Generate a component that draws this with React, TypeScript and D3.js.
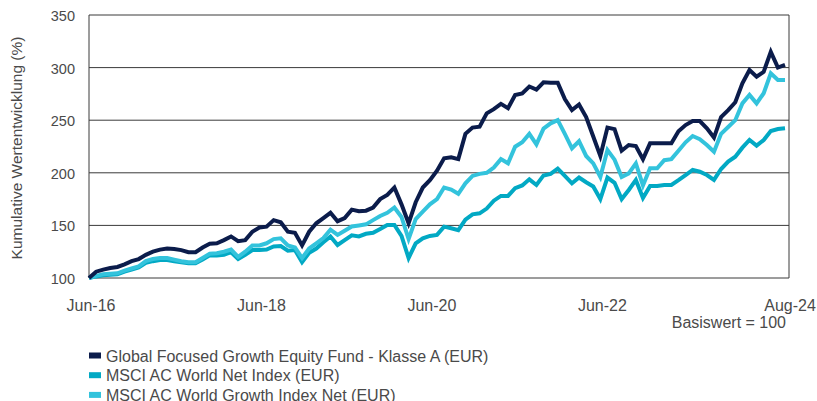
import React from "react";
import * as d3 from "d3";

const xLabels = ["Jun-16", "Jun-18", "Jun-20", "Jun-22", "Aug-24"];
const xLabelIdx = [0, 24, 48, 72, 98];
const yTicks = [100, 150, 200, 250, 300, 350];

const fund = [100, 106, 108, 109.5, 110.5, 113, 116, 118, 122, 125, 127, 128, 127.5, 126.5, 124.5, 124.5, 129, 132.5, 133, 136, 139.5, 135, 136, 144, 148, 148.8, 155, 153, 144, 143, 131, 144, 152, 157, 162, 154, 157, 165, 163.5, 164, 167, 175, 179, 186, 170, 152, 172, 186, 193, 202, 213.8, 214.7, 213, 237, 243, 243.8, 256.5, 260.5, 265.5, 261.5, 274, 275.5, 282, 279, 286, 285.7, 285.7, 270, 259.7, 265, 253, 234.5, 216, 243, 241.5, 221, 226.4, 225.5, 213, 228, 228, 228, 228, 239.5, 245.4, 249.2, 249.2, 242.3, 233.5, 253, 259.5, 267, 285, 297.7, 291.3, 296, 315, 300, 302.5];

const growth = [100, 102, 103.5, 104, 104.5, 107, 109, 111, 116, 118, 119, 119, 117.5, 116, 115, 115, 119, 123, 123.5, 125, 127, 120, 125, 131, 131, 133, 137, 137.7, 131, 129, 119, 128, 133, 138, 146, 141, 145, 149, 150, 151, 155, 159, 162, 167, 158, 137, 156, 163, 170, 175, 186, 184, 180, 190, 197, 199, 200, 205, 213, 209, 224.8, 229, 237, 227, 242, 247, 250, 237, 223.3, 230, 216, 209, 196, 221.7, 212.5, 196, 199.5, 209, 188, 204.3, 204.3, 212, 213, 221, 229, 235, 232, 226.4, 220, 237, 243.5, 250, 266, 274, 266, 275.6, 294.6, 288.2, 288.2];

const net = [100, 101.5, 102.5, 103, 103.5, 106, 108, 110, 114.5, 116, 117, 117, 116, 115, 114, 114, 117.5, 121.5, 121.5, 122, 124.5, 118, 122, 126.6, 126.6, 127, 130, 130.4, 126, 126.6, 115, 124, 128, 134, 139.5, 131.4, 136, 140.5, 139.5, 142, 143, 146.5, 150.4, 150.4, 140, 119, 133, 137.7, 140, 141, 148.8, 147.3, 145.5, 155.5, 160.5, 161.5, 166, 173.5, 178, 178, 185.3, 188, 193.8, 188.4, 197.5, 198.9, 204, 197, 190, 195.5, 191, 187, 175, 195.5, 190.5, 175, 183.7, 193.2, 176, 187.5, 187.5, 188.4, 188.4, 193, 197.9, 202.7, 201, 197.9, 193.2, 203.6, 210.6, 215.3, 223.9, 231.2, 225.8, 231.2, 239.7, 241.6, 242.3];

const seriesNames = [
  "Global Focused Growth Equity Fund - Klasse A (EUR)",
  "MSCI AC World Net Index (EUR)",
  "MSCI AC World Growth Index Net (EUR)",
];
const colors = ["#0b1c4b", "#02a9c4", "#33c3dc"];

const W = 817;
const H = 401;
const left = 89;
const right = 789;
const top = 15;
const bottom = 278;
const font = "'Liberation Sans', Arial, sans-serif";
const textColor = "#4a4a4a";

export default function App() {
  const x = d3.scaleLinear().domain([0, 98]).range([left, 785]);
  const y = d3.scaleLinear().domain([100, 350]).range([bottom, top]);
  const line = d3
    .line<number>()
    .x((_, i) => x(i))
    .y((d) => y(d));

  const drawOrder = [
    { data: net, color: colors[1] },
    { data: growth, color: colors[2] },
    { data: fund, color: colors[0] },
  ];

  return (
    <div style={{ position: "fixed", left: 0, top: 0, background: "#fff" }}>
      <svg width={W} height={H} style={{ display: "block" }}>
        <rect x={0} y={0} width={W} height={H} fill="#fff" />
        {yTicks.map((t) => (
          <g key={t}>
            <line x1={left} x2={right} y1={y(t)} y2={y(t)} stroke="#3a3a3a" strokeWidth={1} />
            <text
              x={75}
              y={y(t) + 1}
              dy="0.35em"
              textAnchor="end"
              fontFamily={font}
              fontSize={14.5}
              fill={textColor}
            >
              {t}
            </text>
          </g>
        ))}
        <line x1={left} x2={left} y1={top} y2={bottom} stroke="#3a3a3a" />
        <line x1={right} x2={right} y1={top} y2={bottom} stroke="#3a3a3a" />
        {drawOrder.map((s, k) => (
          <path
            key={k}
            d={line(s.data) || ""}
            fill="none"
            stroke={s.color}
            strokeWidth={4}
            strokeLinejoin="miter"
          />
        ))}
        {xLabels.map((l, i) => (
          <text
            key={l}
            x={xLabelIdx[i] === 98 ? 790 : x(xLabelIdx[i]) + 2}
            y={311}
            textAnchor="middle"
            fontFamily={font}
            fontSize={16}
            fill={textColor}
          >
            {l}
          </text>
        ))}
        <text x={786} y={328} textAnchor="end" fontFamily={font} fontSize={16} fill={textColor}>
          Basiswert = 100
        </text>
        <text
          transform={`translate(22,148) rotate(-90)`}
          textAnchor="middle"
          fontFamily={font}
          fontSize={15.5}
          fill={textColor}
        >
          Kumulative Wertentwicklung (%)
        </text>
        {seriesNames.map((n, i) => (
          <g key={n} transform={`translate(0, ${356 + i * 19.7})`}>
            <rect x={89} y={-3.5} width={12} height={6} fill={colors[i]} />
            <text x={106} y={0} dy="0.36em" fontFamily={font} fontSize={16} fill={textColor}>
              {n}
            </text>
          </g>
        ))}
      </svg>
    </div>
  );
}
